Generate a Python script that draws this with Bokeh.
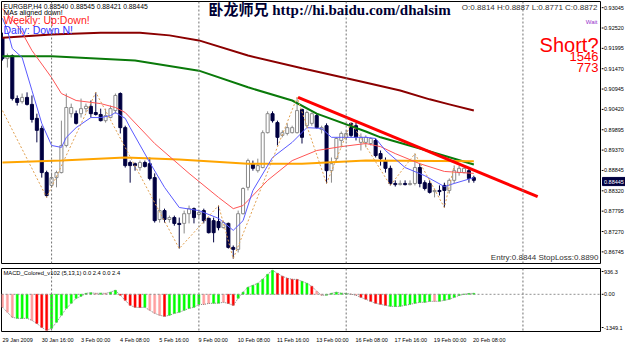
from bokeh.plotting import figure
from bokeh.models import Range1d, Span, Label, ColumnDataSource
from bokeh.layouts import column, row
from bokeh.embed import file_html
from bokeh.resources import INLINE
from bokeh.core.properties import value

# ---------------- data (EURGBP H4, 29 Jan 2009 08:00 .. 20 Feb 2009 08:00) ----------------
opens = [0.9227, 0.9173, 0.9181, 0.9070, 0.9062, 0.9073, 0.9055, 0.9019, 0.8993, 0.8879,
         0.8846, 0.8866, 0.8879, 0.8949, 0.9031, 0.9031, 0.9031, 0.9044, 0.9050, 0.9034,
         0.9029, 0.9013, 0.9021, 0.9039, 0.9083, 0.8995, 0.8905, 0.8902, 0.8892, 0.8905,
         0.8902, 0.8866, 0.8758, 0.8781, 0.8758, 0.8763, 0.8748, 0.8748, 0.8773, 0.8786,
         0.8771, 0.8781, 0.8761, 0.8755, 0.8753, 0.8737, 0.8748, 0.8686, 0.8681, 0.8773,
         0.8841, 0.8902, 0.8884, 0.8892, 0.8982, 0.9031, 0.9008, 0.8975, 0.8980, 0.8982,
         0.8982, 0.9042, 0.9000, 0.9006, 0.9026, 0.8990, 0.9000, 0.8884, 0.8915, 0.8962,
         0.8970, 0.9006, 0.9000, 0.8957, 0.8957, 0.8954, 0.8962, 0.8928, 0.8910, 0.8890,
         0.8851, 0.8848, 0.8851, 0.8848, 0.8851, 0.8892, 0.8853, 0.8851, 0.8830, 0.8833,
         0.8846, 0.8833, 0.8859, 0.8879, 0.8879, 0.8884, 0.8866]
highs = [0.9240, 0.9186, 0.9184, 0.9078, 0.9083, 0.9086, 0.9078, 0.9031, 0.9000, 0.8884,
         0.8879, 0.8884, 0.9013, 0.9083, 0.9057, 0.9039, 0.9070, 0.9057, 0.9065, 0.9086,
         0.9044, 0.9044, 0.9052, 0.9083, 0.9086, 0.9000, 0.8910, 0.8905, 0.8910, 0.8910,
         0.8918, 0.8877, 0.8812, 0.8786, 0.8768, 0.8768, 0.8763, 0.8781, 0.8794, 0.8789,
         0.8781, 0.8786, 0.8763, 0.8763, 0.8794, 0.8755, 0.8750, 0.8691, 0.8781, 0.8841,
         0.8915, 0.8910, 0.8915, 0.8988, 0.9037, 0.9037, 0.9013, 0.8988, 0.9006, 0.9000,
         0.9073, 0.9044, 0.9039, 0.9034, 0.9031, 0.9000, 0.9006, 0.8918, 0.8970, 0.8985,
         0.8988, 0.9008, 0.9008, 0.8980, 0.8975, 0.8970, 0.8967, 0.8936, 0.8918, 0.8897,
         0.8859, 0.8859, 0.8859, 0.8859, 0.8928, 0.8902, 0.8859, 0.8859, 0.8838, 0.8846,
         0.8853, 0.8864, 0.8897, 0.8897, 0.8892, 0.8890, 0.8871]
lows = [0.9168, 0.9150, 0.9065, 0.9052, 0.9057, 0.9052, 0.9008, 0.8957, 0.8866, 0.8815,
        0.8841, 0.8841, 0.8877, 0.8944, 0.9021, 0.9003, 0.9021, 0.9034, 0.9021, 0.9026,
        0.9011, 0.9008, 0.9019, 0.9031, 0.8980, 0.8892, 0.8853, 0.8884, 0.8884, 0.8892,
        0.8859, 0.8750, 0.8750, 0.8750, 0.8750, 0.8742, 0.8683, 0.8722, 0.8748, 0.8748,
        0.8763, 0.8748, 0.8722, 0.8699, 0.8730, 0.8735, 0.8683, 0.8657, 0.8673, 0.8771,
        0.8833, 0.8884, 0.8879, 0.8890, 0.8980, 0.9008, 0.8949, 0.8970, 0.8975, 0.8980,
        0.8980, 0.8954, 0.8995, 0.9000, 0.8993, 0.8980, 0.8851, 0.8853, 0.8910, 0.8944,
        0.8962, 0.8970, 0.8962, 0.8936, 0.8944, 0.8949, 0.8918, 0.8897, 0.8879, 0.8846,
        0.8843, 0.8846, 0.8846, 0.8846, 0.8846, 0.8841, 0.8833, 0.8825, 0.8815, 0.8820,
        0.8789, 0.8825, 0.8851, 0.8871, 0.8877, 0.8853, 0.8853]
closes = [0.9173, 0.9181, 0.9070, 0.9060, 0.9073, 0.9055, 0.9016, 0.8988, 0.8879, 0.8820,
          0.8866, 0.8879, 0.8949, 0.9047, 0.9047, 0.9006, 0.9044, 0.9050, 0.9031, 0.9029,
          0.9013, 0.9026, 0.9044, 0.9078, 0.8995, 0.8897, 0.8897, 0.8897, 0.8905, 0.8895,
          0.8864, 0.8755, 0.8781, 0.8758, 0.8763, 0.8748, 0.8745, 0.8773, 0.8786, 0.8763,
          0.8776, 0.8755, 0.8724, 0.8724, 0.8737, 0.8750, 0.8686, 0.8681, 0.8773, 0.8838,
          0.8910, 0.8890, 0.8897, 0.8982, 0.9031, 0.9013, 0.8970, 0.8982, 0.8995, 0.8995,
          0.9039, 0.8970, 0.9034, 0.9031, 0.8995, 0.8995, 0.8884, 0.8902, 0.8967, 0.8980,
          0.8980, 0.8975, 0.8970, 0.8970, 0.8970, 0.8967, 0.8923, 0.8915, 0.8890, 0.8851,
          0.8848, 0.8851, 0.8848, 0.8851, 0.8892, 0.8851, 0.8838, 0.8828, 0.8833, 0.8830,
          0.8833, 0.8859, 0.8884, 0.8890, 0.8890, 0.8864, 0.8859]

ma_dark_x = [0, 10, 20, 28, 34, 40, 50, 61, 73, 81, 87, 91, 96]
ma_dark = [0.9227, 0.9235, 0.9240, 0.9240, 0.9233, 0.9220, 0.9181, 0.9148, 0.9114, 0.9091, 0.9068, 0.9055, 0.9039]
ma_green_x = [0, 10, 20, 27, 40, 50, 59, 64, 74, 77, 85, 96]
ma_green = [0.9179, 0.9179, 0.9173, 0.9168, 0.9142, 0.9099, 0.9065, 0.9031, 0.8985, 0.8970, 0.8941, 0.8900]
ma_orange_x = [0, 12, 25, 36, 50, 61, 74, 96]
ma_orange = [0.8905, 0.8910, 0.8918, 0.8913, 0.8902, 0.8902, 0.8910, 0.8908]
ma_red_x = [0, 3, 4, 6, 10, 12, 15, 20, 23, 25, 31, 38, 44, 47, 49, 54, 59, 64, 69, 74, 77, 80, 85, 90, 96]
ma_red = [0.9302, 0.9258, 0.9240, 0.9194, 0.9124, 0.9083, 0.9065, 0.9057, 0.9047, 0.9034, 0.8954, 0.8877,
          0.8815, 0.8786, 0.8794, 0.8859, 0.8910, 0.8936, 0.8946, 0.8954, 0.8946, 0.8928, 0.8902, 0.8882, 0.8877]
ma_blue_x = [0, 1, 2, 4, 6, 8, 10, 12, 13, 15, 18, 20, 22, 23, 25, 26, 30, 33, 36, 40,
             44, 47, 49, 51, 55, 59, 62, 65, 67, 69, 74, 76, 78, 82, 86, 90, 92, 96]
ma_blue = [0.9277, 0.9246, 0.9199, 0.9176, 0.9091, 0.9006, 0.8949, 0.8944, 0.8970, 0.8995,
           0.9021, 0.9021, 0.9026, 0.9034, 0.9019, 0.8995, 0.8905, 0.8841, 0.8789, 0.8781,
           0.8761, 0.8730, 0.8755, 0.8833, 0.8918, 0.8957, 0.8995, 0.8993, 0.8970, 0.8970,
           0.8970, 0.8967, 0.8936, 0.8892, 0.8871, 0.8843, 0.8851, 0.8866]
zigzag_x = [0, 9, 19, 36, 44, 47, 60, 66, 71, 79, 84, 90, 92]
zigzag_y = [0.9039, 0.8815, 0.9086, 0.8683, 0.8794, 0.8657, 0.9073, 0.8851, 0.9008, 0.8846, 0.8928, 0.8789, 0.8897]
trend_x = [60.2, 109]
trend_y = [0.9073, 0.8817]

macd_vals = [-470, -650, -835, -870, -875, -870, -945, -1055, -1200, -1305,
             -1235, -1015, -760, -510, -325, -145, -70, 35, 55, 35,
             40, 35, 75, 145, -35, -220, -400, -470, -480, -470,
             -580, -690, -760, -800, -760, -690, -650, -580, -510, -470,
             -365, -370, -330, -325, -320, -290, -330, -400, -145, 75,
             255, 325, 400, 545, 725, 870, 760, 655, 580, 545,
             540, 470, 400, 290, 110, -35, -30, 35, 75, 40,
             30, 5, -35, -110, -180, -255, -325, -365, -400, -435,
             -440, -435, -400, -365, -325, -290, -290, -255, -255, -250,
             -220, -180, -110, -40, 0, 30, 35]
macd_shade = list("pppgggprrr" "gggggggggp" "gpggrrrrrg" "ppprgggggg" "gppggprrgg"
                  "ggggggrrrr" "rggrppgggg" "gpprrrrrrg" "ggggggggpg" "ggggggg")

period_seps = [10, 40, 70, 106]
price_ticks = [0.93045, 0.92520, 0.91995, 0.91470, 0.90945, 0.90420, 0.89895,
               0.89370, 0.88845, 0.88320, 0.87795, 0.87270, 0.86745]
last_price_y = [0.8856]
last_price_text = ["0.88445"]
macd_tick_pos = [827, 0, -1204]
macd_tick_text = ["936.3", "0.00", "-1349.1"]
date_idx = [0, 8, 16, 24, 32, 40, 48, 56, 64, 72, 80, 88, 96]
date_labels = ["29 Jan 2009", "30 Jan 16:00", "3 Feb 00:00", "4 Feb 08:00", "5 Feb 16:00",
               "9 Feb 00:00", "10 Feb 08:00", "11 Feb 16:00", "13 Feb 00:00", "16 Feb 08:00",
               "17 Feb 16:00", "19 Feb 00:00", "20 Feb 08:00"]

# ---------------- figures ----------------
FONT = "Liberation Sans"
SCALE_W = 24
xr = Range1d(-0.2, 122.0)
yr_main = Range1d(0.86445, 0.93204)
yr_macd = Range1d(-1349.1, 936.3)


def clean(p):
    p.xgrid.visible = False
    p.ygrid.visible = False
    p.background_fill_color = "white"
    p.border_fill_color = "white"
    return p


def panel(h, yr, top, bottom):
    p = figure(width=601, height=h, x_range=xr, y_range=yr, output_backend="svg",
               toolbar_location=None, x_axis_location=None, y_axis_location=None,
               min_border_left=1, min_border_right=0, min_border_top=top,
               min_border_bottom=bottom)
    clean(p)
    p.outline_line_color = "black"
    p.outline_line_width = 1
    return p


def scale_fig(h, yr, top, bottom):
    p = figure(width=SCALE_W, height=h, x_range=Range1d(0, SCALE_W), y_range=yr,
               output_backend="svg", toolbar_location=None, x_axis_location=None,
               y_axis_location=None, min_border_left=0, min_border_right=0,
               min_border_top=top, min_border_bottom=bottom)
    clean(p)
    p.outline_line_color = None
    return p


main = panel(264, yr_main, 1, 1)
for s in period_seps:
    main.add_layout(Span(location=s, dimension="height", line_color="#707070",
                         line_dash="2 2", line_width=1))

n = len(opens)
idx = list(range(n))
bull = [c >= o for o, c in zip(opens, closes)]
src = ColumnDataSource(dict(
    x=idx, o=opens, h=highs, l=lows, c=closes,
    top=[max(o, c) for o, c in zip(opens, closes)],
    bot=[min(o, c) for o, c in zip(opens, closes)],
    fill=["white" if b else "#000040" for b in bull],
    line=["#8a8a8a" if b else "#000040" for b in bull],
))
main.segment(x0="x", y0="l", x1="x", y1="h", line_color="line", line_width=1, source=src)
main.vbar(x="x", width=0.62, top="top", bottom="bot", fill_color="fill",
          line_color="line", line_width=1, source=src)

main.line(ma_dark_x, ma_dark, line_color="#8b0000", line_width=2)
main.line(ma_green_x, ma_green, line_color="#0a7a0a", line_width=2)
main.line(ma_orange_x, ma_orange, line_color="#ffa500", line_width=2)
main.line(ma_red_x, ma_red, line_color="#ff5555", line_width=1)
main.line(ma_blue_x, ma_blue, line_color="#5a5aff", line_width=1)
main.line(zigzag_x, zigzag_y, line_color="#e0a050", line_width=1, line_dash="2 2")
main.line(trend_x, trend_y, line_color="#ff0000", line_width=3)


def lab(p, x, y, text, size, color, align="left", bold=False, font=FONT, baseline="top"):
    p.add_layout(Label(x=x, y=y, text=text, text_font_size=size, text_color=color,
                       text_align=align, text_baseline=baseline, text_font=font,
                       text_font_style="bold" if bold else "normal"))


lab(main, 0.2, 0.93153, "EURGBP,H4  0.88540 0.88545 0.88421 0.88445", "6.8px", "black")
lab(main, 0.2, 0.93020, "MAs aligned down!", "7px", "black")
lab(main, 0.2, 0.92880, "Weekly: Up:Down!", "10.5px", "#ff2020")
lab(main, 0.2, 0.92630, "Daily: Down N!", "10.5px", "#3333ff")
lab(main, 41.96, 0.93195, "卧龙师兄 http://hi.baidu.com/dhalsim", "15px", "#000033",
    bold=True, font="Liberation Serif, Noto Sans CJK SC")
lab(main, 121.19, 0.93153, "O:0.8814 H:0.8887 L:0.8771 C:0.8872", "8px", "#333333", align="right")
lab(main, 121.19, 0.92740, "Wait", "6px", "#9932cc", align="right")
lab(main, 121.39, 0.92353, "Short?", "20px", "#ff0000", align="right")
lab(main, 121.39, 0.91914, "1546", "13px", "#ff0000", align="right")
lab(main, 121.39, 0.91605, "773", "13px", "#ff0000", align="right")
lab(main, 121.39, 0.86703, "Entry:0.8844 StopLoss:0.8890", "8px", "#333333", align="right")

# price scale (right)
pscale = scale_fig(264, yr_main, 1, 1)
pscale.segment(x0=[0] * len(price_ticks), y0=price_ticks, x1=[2] * len(price_ticks),
               y1=price_ticks, line_color="black", line_width=1)
pscale.text(x=[2.5] * len(price_ticks), y=price_ticks, text=[f"{t:.5f}" for t in price_ticks],
            text_font=value(FONT), text_font_size="5.5px", text_baseline="middle",
            text_align="left", text_color="black")
pscale.rect(x=[12.5], y=last_price_y, width=23, height=0.0021, fill_color="#000040",
            line_color="#000040")
pscale.text(x=[2.5], y=last_price_y, text=last_price_text, text_font=value(FONT),
            text_font_size="5.5px", text_baseline="middle", text_align="left",
            text_color="white")

# separator
sep = figure(width=625, height=3, x_range=xr, y_range=Range1d(0, 1), output_backend="svg",
             toolbar_location=None, x_axis_location=None, y_axis_location=None,
             min_border_left=0, min_border_right=25, min_border_top=0, min_border_bottom=0)
sep.xgrid.visible = False
sep.ygrid.visible = False
sep.background_fill_color = "#a8a8a8"
sep.border_fill_color = "white"
sep.outline_line_color = None

# MACD panel
macd = panel(66, yr_macd, 1, 2)
for s in period_seps:
    macd.add_layout(Span(location=s, dimension="height", line_color="#707070",
                         line_dash="2 2", line_width=1))
macd.add_layout(Span(location=0, dimension="width", line_color="#909090",
                     line_dash="2 2", line_width=1))
shade_col = {"g": "#00ff00", "r": "#ff0000", "p": "#ffa0a0"}
msrc = ColumnDataSource(dict(x=idx, v=macd_vals,
                             col=[shade_col[s] for s in macd_shade[:n]]))
macd.vbar(x="x", width=0.42, top="v", bottom=0, fill_color="col", line_color="col",
          line_width=0.5, source=msrc)
macd.line(idx, macd_vals, line_color="#808080", line_dash="1 1", line_width=1)
lab(macd, 0.2, 864, "MACD_Colored_v102 (5,13,1) 0.0 2.4 0.0 2.4", "5.8px", "black")

mscale = scale_fig(66, yr_macd, 1, 2)
mscale.segment(x0=[0] * 3, y0=macd_tick_pos, x1=[2] * 3, y1=macd_tick_pos,
               line_color="black", line_width=1)
mscale.text(x=[2.5] * 3, y=macd_tick_pos, text=macd_tick_text, text_font=value(FONT),
            text_font_size="5.5px", text_baseline="middle", text_align="left",
            text_color="black")

# date labels
dates = figure(width=625, height=12, x_range=xr, y_range=Range1d(0, 1), output_backend="svg",
               toolbar_location=None, x_axis_location=None, y_axis_location=None,
               min_border_left=1, min_border_right=24, min_border_top=0, min_border_bottom=0)
dates.xgrid.visible = False
dates.ygrid.visible = False
dates.outline_line_color = None
dates.text(x=date_idx, y=[0.5] * len(date_idx), text=date_labels, text_font_size="5.5px",
           text_font=value(FONT), text_baseline="middle", text_align="left", text_color="black")

layout = column(row(main, pscale, spacing=0), sep, row(macd, mscale, spacing=0), dates, spacing=0)
open("out.html", "w").write(file_html(layout, INLINE))
